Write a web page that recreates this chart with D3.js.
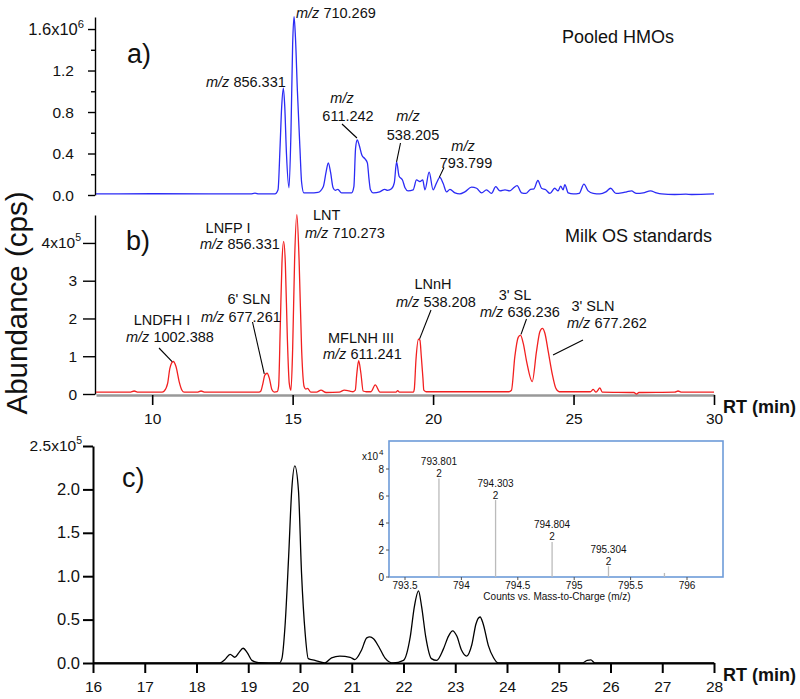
<!DOCTYPE html>
<html><head><meta charset="utf-8">
<script src="https://cdn.jsdelivr.net/npm/d3@7"></script>
<style>
body{margin:0;background:#fff}
text{font-family:"Liberation Sans",Arial,Helvetica,sans-serif;white-space:pre;fill:#111}
</style>
</head><body>
<svg id="chart" width="800" height="699"></svg>
<script>
// ---------- DATA ----------
// Panel a: Pooled HMOs (RT min, abundance x1e6)
const timeA=[8.00,10.0,12.0,13.5,13.66,13.8,14.37,14.48,14.55,14.61,14.67,14.72,14.78,14.87,14.94,15.00,15.05,15.10,15.17,15.26,15.32,15.40,15.62,15.90,16.09,16.19,16.27,16.35,16.44,16.52,16.61,16.74,17.10,17.18,17.24,17.30,17.37,17.47,17.57,17.66,17.72,17.77,17.87,18.10,18.28,18.38,18.52,18.62,18.70,18.79,18.91,19.00,19.11,19.29,19.41,19.53,19.63,19.71,19.86,20.00,20.12,20.24,20.36,20.48,20.60,20.78,20.95,21.13,21.37,21.55,21.73,21.90,22.08,22.23,22.38,22.56,22.73,22.85,22.99,23.15,23.30,23.47,23.59,23.73,23.86,24.01,24.16,24.33,24.45,24.54,24.63,24.69,24.81,24.99,25.20,25.37,25.52,25.70,25.94,26.15,26.32,26.51,26.71,26.89,27.06,27.24,27.48,27.74,27.95,28.13,28.6,29.0,29.2,30.0];
const abundA=[0.010,0.012,0.010,0.010,0.018,0.010,0.010,0.05,0.45,0.85,1.03,0.85,0.40,0.07,0.60,1.45,1.72,1.52,1.00,0.45,0.12,0.02,0.02,0.025,0.08,0.22,0.31,0.22,0.07,0.045,0.055,0.02,0.02,0.08,0.45,0.53,0.48,0.38,0.35,0.31,0.15,0.05,0.02,0.03,0.055,0.045,0.06,0.12,0.32,0.18,0.145,0.07,0.04,0.05,0.145,0.13,0.145,0.05,0.22,0.05,0.115,0.17,0.11,0.03,0.055,0.02,0.01,0.03,0.075,0.065,0.02,0.05,0.015,0.08,0.04,0.05,0.04,0.065,0.09,0.02,0.015,0.055,0.06,0.14,0.065,0.05,0.015,0.065,0.04,0.085,0.05,0.10,0.02,0.01,0.015,0.105,0.04,0.015,0.01,0.03,0.065,0.015,0.02,0.03,0.04,0.015,0.02,0.04,0.02,0.01,0.005,0.008,0.005,0.01];

// Panel b: Milk OS standards (RT min, abundance x1e5)
const timeB=[8.0,9.2,9.36,9.5,10.35,10.43,10.55,10.63,10.75,10.85,10.96,11.06,11.14,11.6,11.74,11.88,13.8,13.87,13.93,14.01,14.09,14.17,14.26,14.35,14.45,14.50,14.56,14.62,14.68,14.74,14.81,14.88,14.94,15.00,15.07,15.15,15.23,15.32,15.41,15.47,15.53,15.65,15.85,16.01,16.19,16.66,16.84,17.01,17.15,17.23,17.28,17.35,17.43,17.51,17.62,17.79,17.94,18.11,18.68,18.74,18.80,19.30,19.33,19.39,19.48,19.53,19.58,19.64,19.67,19.75,22.70,22.79,22.91,23.03,23.11,23.21,23.33,23.53,23.68,23.80,23.89,23.98,24.10,24.25,24.37,24.49,25.60,25.70,25.80,25.94,26.02,27.15,27.24,27.33,28.6,28.72,28.85,30.0];
const abundB=[0.05,0.05,0.08,0.05,0.05,0.08,0.28,0.68,0.86,0.72,0.33,0.10,0.05,0.05,0.08,0.05,0.05,0.08,0.24,0.50,0.55,0.42,0.12,0.05,0.06,0.20,1.79,3.47,4.04,3.47,1.52,0.28,0.10,1.17,3.55,4.75,3.55,1.17,0.19,0.13,0.15,0.05,0.05,0.10,0.04,0.05,0.10,0.08,0.06,0.10,0.50,0.88,0.55,0.08,0.06,0.06,0.24,0.05,0.05,0.09,0.05,0.05,0.12,0.90,1.45,1.43,1.00,0.40,0.10,0.06,0.06,0.10,0.99,1.50,1.56,1.34,0.86,0.33,1.12,1.65,1.74,1.61,1.12,0.50,0.15,0.06,0.06,0.12,0.05,0.16,0.05,0.04,0.00,0.04,0.05,0.08,0.05,0.05];

// Panel c: EIC (RT min, abundance x1e5)
const timeC=[16.0,18.45,18.55,18.65,18.74,18.82,18.90,18.98,19.07,19.2,19.60,19.65,19.71,19.78,19.84,19.90,19.97,20.03,20.10,20.16,20.29,20.48,20.61,20.77,20.97,21.06,21.19,21.29,21.35,21.42,21.52,21.64,21.80,22.00,22.13,22.21,22.29,22.35,22.43,22.54,22.64,22.77,22.87,22.95,23.03,23.12,23.22,23.32,23.40,23.48,23.54,23.64,23.74,23.83,24.2,25.45,25.55,25.62,25.7,28.0];
const abundC=[0.0,0.0,0.04,0.10,0.066,0.12,0.17,0.12,0.03,0.005,0.0,0.05,0.42,1.22,1.99,2.27,1.99,1.03,0.34,0.05,0.03,0.0,0.06,0.08,0.066,0.04,0.15,0.29,0.30,0.28,0.19,0.06,0.0,0.03,0.30,0.65,0.83,0.65,0.30,0.05,0.03,0.16,0.31,0.37,0.31,0.15,0.08,0.21,0.45,0.53,0.45,0.20,0.06,0.0,0.0,0.0,0.03,0.035,0.0,0.0];

// Inset mass spectrum (m/z, counts x1e4, charge)
const insetMz=[793.801,794.303,794.804,795.304,795.80];
const insetCounts=[7.3,5.7,2.6,0.8,0.3];
const insetCharge=["2","2","2","2",""];

// Tick values
const ticksAMajor=[0,0.4,0.8,1.2,1.6], ticksAMinor=[0.2,0.6,1.0,1.4];
const ticksAY=["0.0","0.4","0.8","1.2","1.6"];
const ticksBY=[0,1,2,3,4], ticksBX=[10,15,20,25,30];
const ticksCY=[0,0.5,1.0,1.5,2.0,2.5], ticksCX=[16,17,18,19,20,21,22,23,24,25,26,27,28];
const ticksIX=[793.5,794,794.5,795,795.5,796], ticksIY=[0,2,4,6,8];

// ---------- DRAW ----------
const svg=d3.select("#chart");
const FS=15.5;

const xA=d3.scaleLinear().domain([8,30]).range([96,714]);
const yA=d3.scaleLinear().domain([0,1.716]).range([195,17]);
const xB=xA.copy();
const yB=d3.scaleLinear().domain([0,4.74]).range([394,215]);
const xC=d3.scaleLinear().domain([16,28]).range([93,714]);
const yC=d3.scaleLinear().domain([0,2.5]).range([663,446]);

function trace(ts,vs,x,y,color){
  const pts=ts.map((t,i)=>[t,vs[i]]);
  svg.append("path").datum(pts)
    .attr("d",d3.line().x(d=>x(d[0])).y(d=>y(d[1])).curve(d3.curveMonotoneX))
    .attr("fill","none").attr("stroke",color).attr("stroke-width",1.3).attr("stroke-linejoin","round");
}
function sciLabel(g,x,y,base,exp,fs){
  const t=g.append("text").attr("x",x).attr("y",y).attr("font-size",fs).attr("text-anchor","end");
  t.append("tspan").text(base);
  t.append("tspan").attr("dy",-7).attr("font-size",fs*0.68).text(exp);
}

// ----- Panel a -----
const gA=svg.append("g");
gA.append("g").attr("transform","translate(95,0)")
  .call(d3.axisLeft(yA).tickValues(ticksAMajor).tickSize(7).tickSizeOuter(0).tickFormat(""))
  .call(g=>g.selectAll("path,line").attr("stroke","#000").attr("stroke-width",1.4));
gA.append("g").attr("transform","translate(95,0)")
  .call(d3.axisLeft(yA).tickValues(ticksAMinor).tickSize(4).tickSizeOuter(0).tickFormat(""))
  .call(g=>g.select("path").remove())
  .call(g=>g.selectAll("line").attr("stroke","#000").attr("stroke-width",1.4));
ticksAMajor.forEach((v,i)=>{
  if(i<ticksAMajor.length-1){
    gA.append("text").attr("x",74).attr("y",yA(v)+5.5).attr("font-size",FS).attr("text-anchor","end").text(ticksAY[i]);
  } else {
    sciLabel(gA,84,yA(v)+5.5,"1.6x10","6",16.5);
  }
});
trace(timeA,abundA,xA,yA,"#2b2bf5");

// ----- Panel b -----
const gB=svg.append("g");
gB.append("g").attr("transform","translate(0,395)")
  .call(d3.axisBottom(xB).tickValues(ticksBX).tickSize(10).tickSizeOuter(0).tickPadding(8).tickFormat(d=>d))
  .call(g=>g.select("path").attr("stroke","#999").attr("stroke-width",2.5))
  .call(g=>g.selectAll("line").attr("stroke","#000").attr("stroke-width",1.6))
  .call(g=>g.selectAll("text").attr("font-size",FS).attr("font-family",null).attr("fill","#111"));
gB.append("g").attr("transform","translate(95,0)")
  .call(d3.axisLeft(yB).tickValues(ticksBY).tickSize(12).tickSizeOuter(0).tickFormat(""))
  .call(g=>g.selectAll("path,line").attr("stroke","#000").attr("stroke-width",1.4));
ticksBY.forEach((v,i)=>{
  if(v<4) gB.append("text").attr("x",77).attr("y",yB(v)+5.5).attr("font-size",FS).attr("text-anchor","end").text(v);
  else sciLabel(gB,81,yB(v)+5,"4x10","5",FS);
});
trace(timeB,abundB,xB,yB,"#f22020");

// ----- Panel c -----
const gC=svg.append("g");
gC.append("g").attr("transform","translate(0,663)")
  .call(d3.axisBottom(xC).tickValues(ticksCX).tickSize(10).tickSizeOuter(0).tickPadding(8).tickFormat(d=>d))
  .call(g=>g.selectAll("path,line").attr("stroke","#000").attr("stroke-width",2))
  .call(g=>g.selectAll("text").attr("font-size",FS).attr("font-family",null).attr("fill","#111"));
gC.append("g").attr("transform","translate(93,0)")
  .call(d3.axisLeft(yC).tickValues(ticksCY).tickSize(10).tickSizeOuter(0).tickFormat(""))
  .call(g=>g.selectAll("path,line").attr("stroke","#000").attr("stroke-width",2));
ticksCY.forEach((v,i)=>{
  if(v<2.5) gC.append("text").attr("x",80).attr("y",yC(v)+5.5).attr("font-size",16.5).attr("text-anchor","end").text(v.toFixed(1));
  else sciLabel(gC,82,yC(v)+5,"2.5x10","5",FS);
});
trace(timeC,abundC,xC,yC,"#000");

// ----- Inset -----
const gI=svg.append("g");
gI.append("rect").attr("x",389).attr("y",441).attr("width",334).attr("height",136)
  .attr("fill","#fff").attr("stroke","#6d9bd9").attr("stroke-width",1.6);
const xI=d3.scaleLinear().domain([793.5,796]).range([405,687]);
const yI=d3.scaleLinear().domain([0,8]).range([577,469]);
insetMz.forEach((m,i)=>{
  gI.append("line").attr("x1",xI(m)).attr("x2",xI(m)).attr("y1",yI(0)).attr("y2",yI(insetCounts[i]))
    .attr("stroke","#bbb").attr("stroke-width",1.3);
  if(insetCharge[i]){
    gI.append("text").attr("x",xI(m)).attr("y",yI(insetCounts[i])-13.5).attr("font-size",10).attr("text-anchor","middle").attr("fill","#333").text(m.toFixed(3));
    gI.append("text").attr("x",xI(m)).attr("y",yI(insetCounts[i])-1.5).attr("font-size",10).attr("text-anchor","middle").attr("fill","#333").text(insetCharge[i]);
  }
});
ticksIY.forEach(v=>{
  gI.append("line").attr("x1",386).attr("x2",389).attr("y1",yI(v)).attr("y2",yI(v)).attr("stroke","#555");
  gI.append("text").attr("x",384).attr("y",yI(v)+3.5).attr("font-size",10).attr("text-anchor","end").attr("fill","#333").text(v);
});
ticksIX.forEach(v=>{
  gI.append("line").attr("x1",xI(v)).attr("x2",xI(v)).attr("y1",577).attr("y2",580).attr("stroke","#555");
  gI.append("text").attr("x",xI(v)).attr("y",589).attr("font-size",10).attr("text-anchor","middle").attr("fill","#333").text(v);
});
gI.append("text").attr("x",362).attr("y",460).attr("font-size",10).attr("fill","#333").text("x10");
gI.append("text").attr("x",379).attr("y",455).attr("font-size",8).attr("fill","#333").text("4");
gI.append("text").attr("x",557).attr("y",600).attr("font-size",10).attr("text-anchor","middle").attr("fill","#333").text("Counts vs. Mass-to-Charge (m/z)");

// ----- Annotations -----
const ann=svg.append("g");
const AF=14.5;
function mz(x,y,val,anchor){
  const t=ann.append("text").attr("x",x).attr("y",y).attr("font-size",AF).attr("text-anchor",anchor||"start");
  t.append("tspan").attr("font-style","italic").text("m/z");
  t.append("tspan").text(" "+val);
}
function txt(x,y,s,fs,anchor,weight,style){
  ann.append("text").attr("x",x).attr("y",y).attr("font-size",fs).attr("text-anchor",anchor||"start")
    .attr("font-weight",weight||"normal").attr("font-style",style||"normal").text(s);
}
function lead(x1,y1,x2,y2){
  ann.append("line").attr("x1",x1).attr("y1",y1).attr("x2",x2).attr("y2",y2).attr("stroke","#000").attr("stroke-width",1.1);
}
// panel a
txt(127,63,"a)",27);
txt(562,43,"Pooled HMOs",18);
mz(296,18,"710.269");
mz(206,87,"856.331");
txt(342,103,"m/z",AF,"middle","normal","italic");
txt(348,121,"611.242",AF,"middle");
lead(342,124,xA(17.29),yA(0.53)-2);
txt(408,121,"m/z",AF,"middle","normal","italic");
txt(413,140,"538.205",AF,"middle");
lead(400.5,143,xA(18.70),yA(0.32));
txt(463,151,"m/z",AF,"middle","normal","italic");
txt(466,168,"793.799",AF,"middle");
lead(444,167.5,xA(20.22),yA(0.17));
// panel b
txt(126,250,"b)",27);
txt(565,242,"Milk OS standards",18);
txt(313,220,"LNT",AF);
mz(305,238,"710.273");
txt(228,233,"LNFP I",AF,"middle");
mz(200,249,"856.331");
txt(249,304,"6' SLN",AF,"middle");
mz(201,322,"677.261");
txt(162,325,"LNDFH I",AF,"middle");
mz(126,342,"1002.388");
lead(159,348,xB(10.71),yB(0.86));
lead(252.5,322,xB(13.99),yB(0.53));
txt(361,342.5,"MFLNH III",AF,"middle");
mz(323,358.5,"611.241");
txt(433,288.5,"LNnH",AF,"middle");
mz(396,307,"538.208");
lead(431,310,xB(19.52),yB(1.46));
txt(515,300,"3' SL",AF,"middle");
mz(480,317,"636.236");
lead(526.5,319,xB(23.13),yB(1.58));
txt(593,311,"3' SLN",AF,"middle");
mz(567,328,"677.262");
lead(583,340,xB(24.27),yB(1.03));
txt(723,413,"RT (min)",18,"start","bold");
// panel c
txt(122,487,"c)",27);
txt(723,681,"RT (min)",18,"start","bold");
// global y label
svg.append("text").attr("transform","translate(27,303) rotate(-90)").attr("text-anchor","middle")
  .attr("font-size",29.5).text("Abundance (cps)");
</script>
</body></html>
